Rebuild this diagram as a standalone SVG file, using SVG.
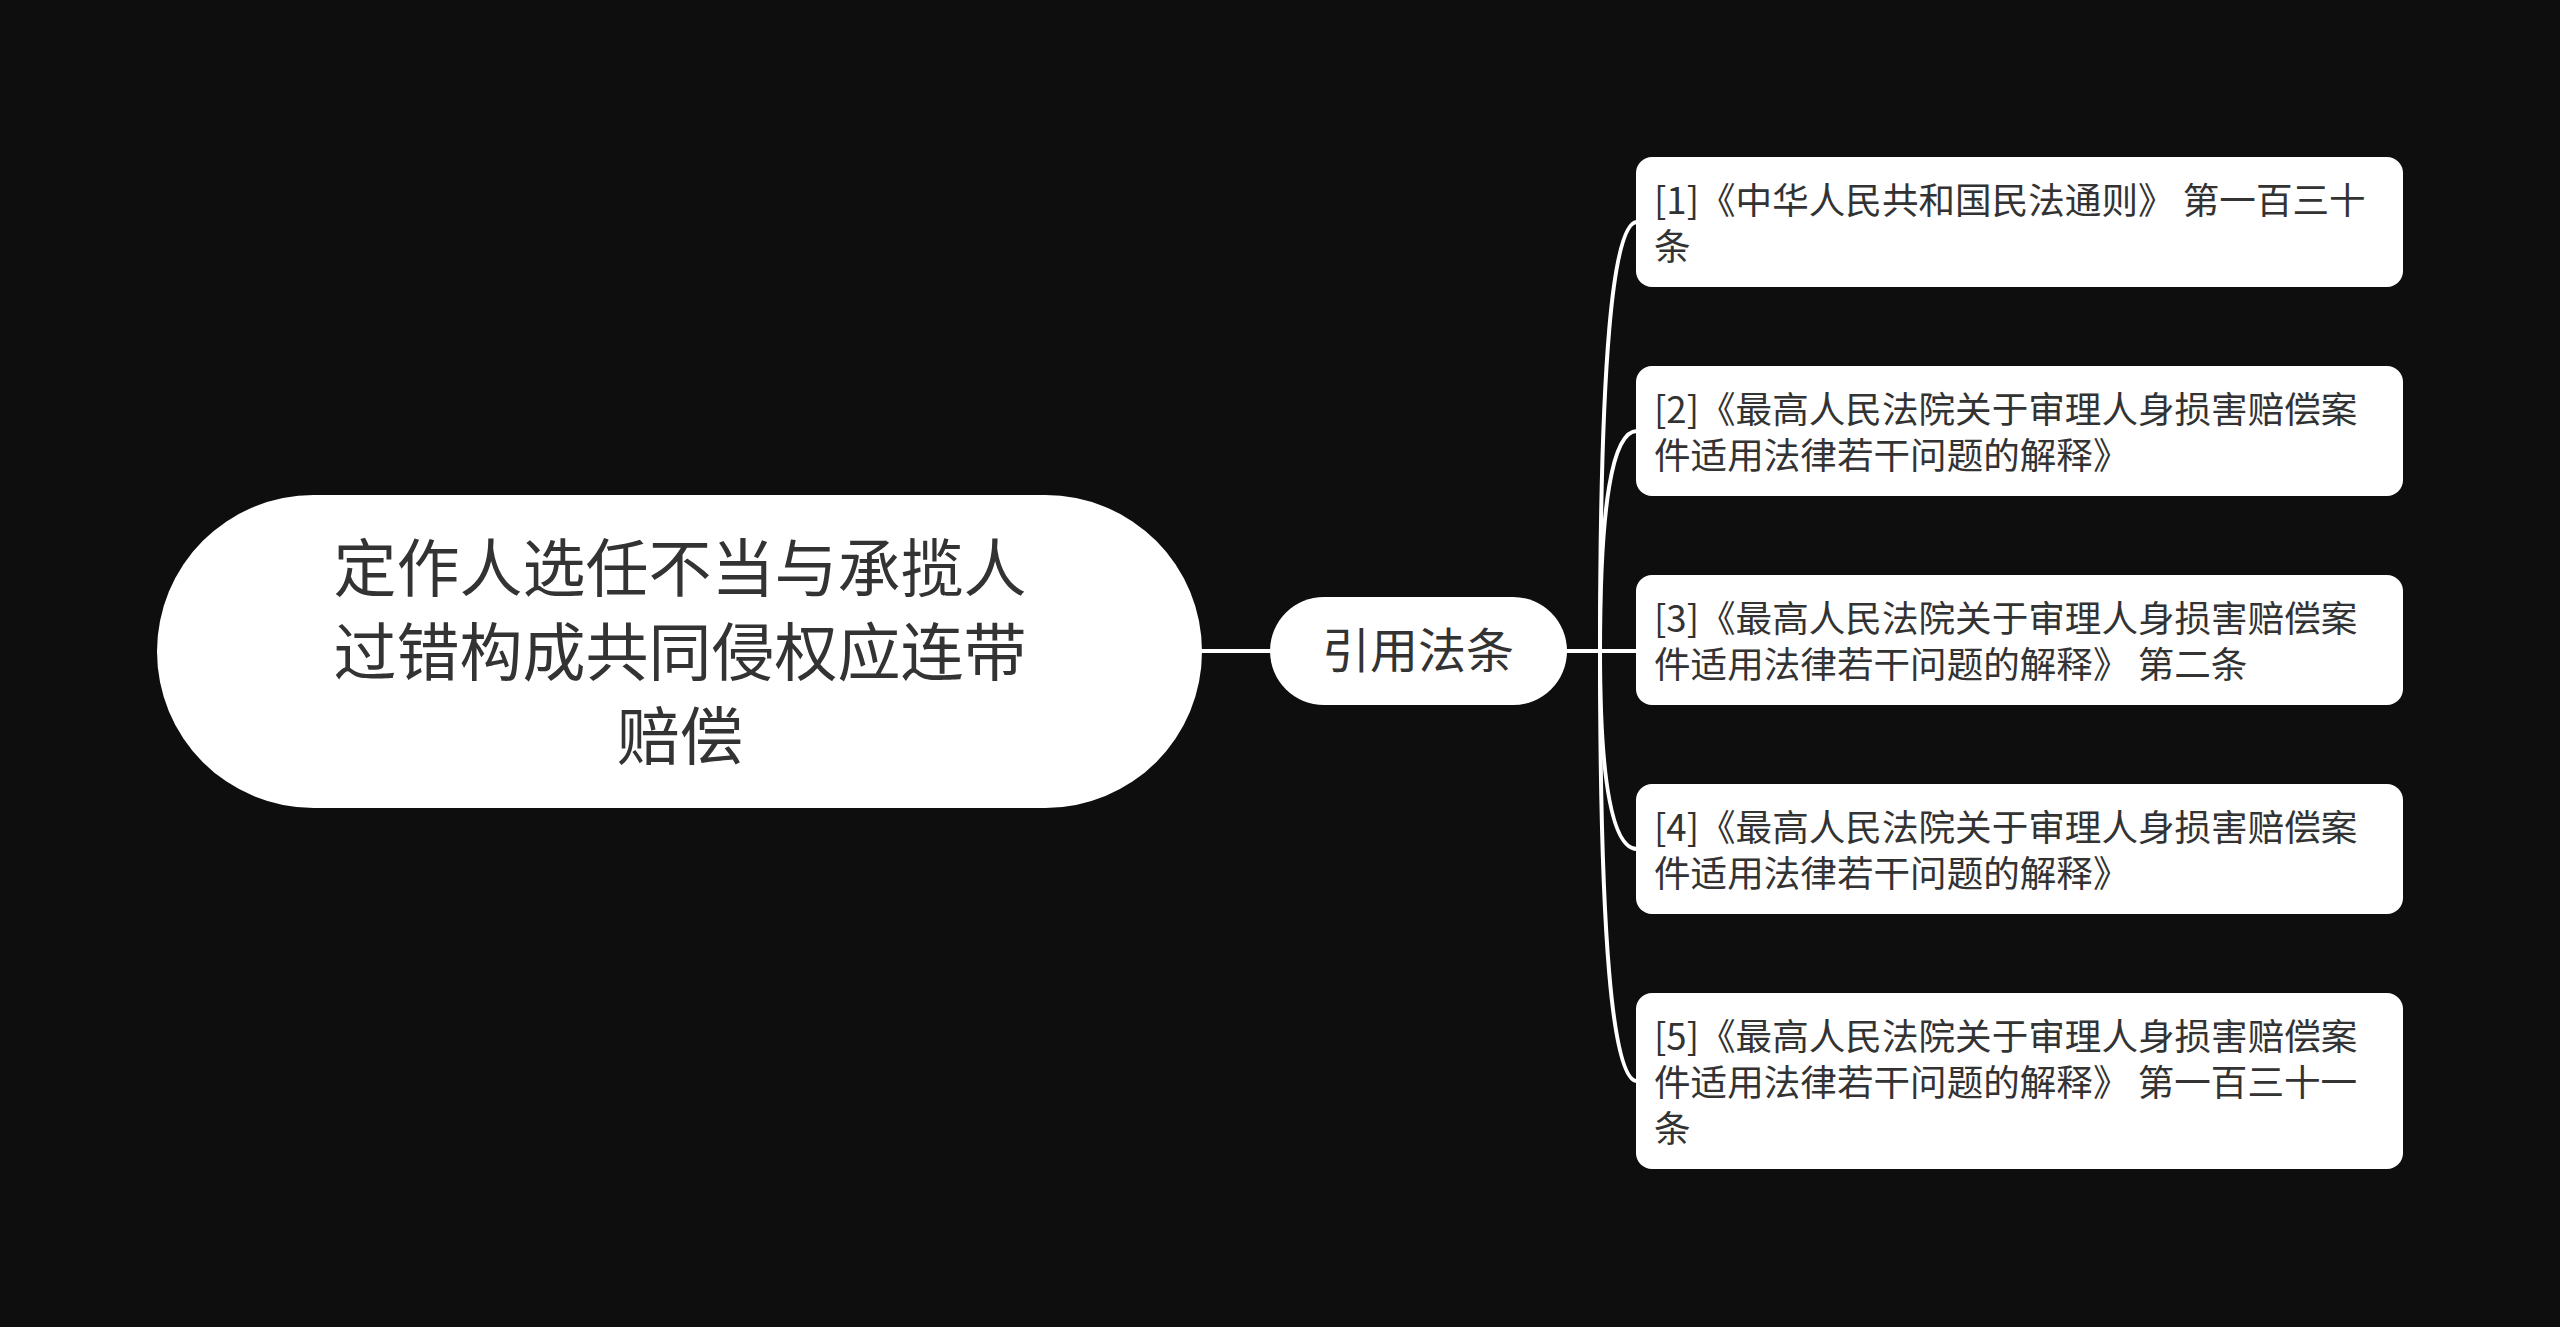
<svg xmlns="http://www.w3.org/2000/svg" width="2560" height="1327" viewBox="0 0 2560 1327">
<style>
.bg{fill:#0e0e0f}
.node{fill:#ffffff}
.t{font-family:"Noto Sans CJK SC","Noto Sans",sans-serif;fill:#333333}
.root{font-size:63px;text-anchor:middle}
.mid{font-size:48px;text-anchor:middle}
.leaf{font-size:36.6px}
.edge{fill:none;stroke:#ffffff;stroke-width:4;stroke-linecap:round}
</style>
<rect class="bg" x="0" y="0" width="2560" height="1327"/>
<g id="connectors">
<path class="edge" d="M1202 651 L1270 651"/>
<path class="edge" d="M1567 651 L1600 651"/>
<path class="edge" d="M1600 651 Q1600 222 1637 222"/>
<path class="edge" d="M1600 651 Q1600 431 1637 431"/>
<path class="edge" d="M1600 651 L1637 651"/>
<path class="edge" d="M1600 651 Q1600 849 1637 849"/>
<path class="edge" d="M1600 651 Q1600 1081 1637 1081"/>
</g>
<g id="root">
<rect class="node" x="157" y="495" width="1045" height="313" rx="156.5" ry="156.5"/>
<text class="t root" x="680" y="591">定作人选任不当与承揽人<tspan x="680" dy="84">过错构成共同侵权应连带</tspan><tspan x="680" dy="84">赔偿</tspan></text>
</g>
<g id="mid">
<rect class="node" x="1270" y="597" width="297" height="108" rx="54" ry="54"/>
<text class="t mid" x="1418" y="668">引用法条</text>
</g>
<g id="leaf1">
<rect class="node" x="1636" y="157" width="767" height="130" rx="16" ry="16"/>
<text class="t leaf" x="1654" y="214">[1]《中华人民共和国民法通则》 第一百三十<tspan x="1654" dy="46">条</tspan></text>
</g>
<g id="leaf2">
<rect class="node" x="1636" y="366" width="767" height="130" rx="16" ry="16"/>
<text class="t leaf" x="1654" y="423">[2]《最高人民法院关于审理人身损害赔偿案<tspan x="1654" dy="46">件适用法律若干问题的解释》</tspan></text>
</g>
<g id="leaf3">
<rect class="node" x="1636" y="575" width="767" height="130" rx="16" ry="16"/>
<text class="t leaf" x="1654" y="632">[3]《最高人民法院关于审理人身损害赔偿案<tspan x="1654" dy="46">件适用法律若干问题的解释》 第二条</tspan></text>
</g>
<g id="leaf4">
<rect class="node" x="1636" y="784" width="767" height="130" rx="16" ry="16"/>
<text class="t leaf" x="1654" y="841">[4]《最高人民法院关于审理人身损害赔偿案<tspan x="1654" dy="46">件适用法律若干问题的解释》</tspan></text>
</g>
<g id="leaf5">
<rect class="node" x="1636" y="993" width="767" height="176" rx="16" ry="16"/>
<text class="t leaf" x="1654" y="1050">[5]《最高人民法院关于审理人身损害赔偿案<tspan x="1654" dy="46">件适用法律若干问题的解释》 第一百三十一</tspan><tspan x="1654" dy="46">条</tspan></text>
</g>
</svg>
